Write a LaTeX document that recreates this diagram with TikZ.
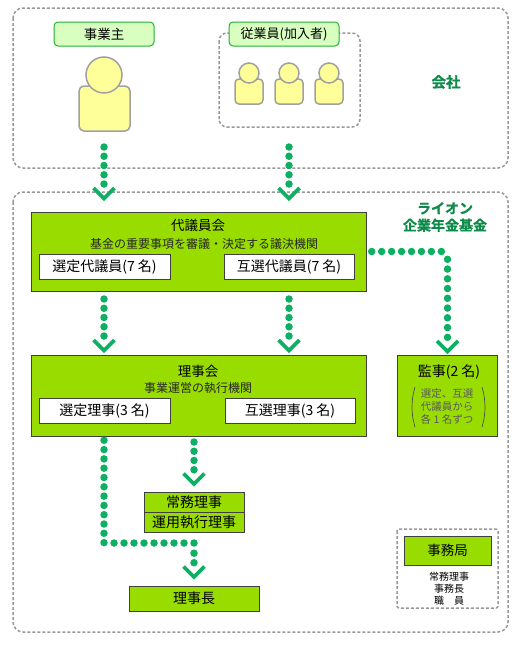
\documentclass[tikz,border=0pt]{standalone}
\usepackage{fontspec}
\setmainfont{Noto Sans CJK JP}
\newfontfamily\boldcjk[FakeBold=1]{Noto Sans CJK JP Bold}
\definecolor{dotgreen}{HTML}{0DAF63}
\definecolor{boxgreen}{HTML}{99DD00}
\definecolor{taggreen}{HTML}{D8FFC0}
\definecolor{tagedge}{HTML}{22B033}
\definecolor{personfill}{HTML}{FFFF99}
\definecolor{personedge}{HTML}{A0A0A0}
\definecolor{dashgrey}{HTML}{999999}
\definecolor{boxedge}{HTML}{404040}
\definecolor{titlegreen}{HTML}{0E8A4A}
\tikzset{
  x=1pt,y=-1pt,
  region/.style={draw=dashgrey,line width=1.5pt,dash pattern=on 3pt off 2pt,rounded corners=10pt},
  tagbox/.style={draw=tagedge,fill=taggreen,line width=1pt,rounded corners=4pt,inner sep=0pt,font=\fontsize{13.5}{15}\selectfont},
  greenbox/.style={draw=boxedge,fill=boxgreen,line width=1pt,inner sep=0pt,font=\fontsize{14}{15}\selectfont},
  whitebox/.style={draw=boxedge,fill=white,line width=1pt,inner sep=0pt,font=\fontsize{14}{15}\selectfont},
  person/.style={draw=personedge,fill=personfill,line width=1.5pt},
  dotline/.style={draw=dotgreen,line width=7.5pt,line cap=round,dash pattern=on 0pt off #1},
  dotline/.default=9.25pt,
  chevron/.style={draw=dotgreen,line width=3.6pt,line cap=butt,line join=miter},
  lbl/.style={inner sep=0pt,align=center},
  paren/.style={draw=black!70,line width=0.7pt},
  chev/.pic={\draw[chevron] (-10.5,-10.5) -- (0,0) -- (10.5,-10.5);}
}
\begin{document}
\begin{tikzpicture}
\useasboundingbox (0,0) rectangle (520,648);
% regions
\draw[region] (13,8) rectangle (508,168);
\draw[region] (13,192) rectangle (508,632);
\draw[region,rounded corners=8pt] (219,33) rectangle (360,127);
\draw[region,rounded corners=2pt] (397,529) rectangle (498,608);
% tags
\node[tagbox,minimum width=100pt,minimum height=24pt] (owner) at (104,34) {事業主};
\node[tagbox,minimum width=110pt,minimum height=24pt,font=\fontsize{13}{15}\selectfont] (staff) at (284,34) {従業員(加入者)};
% persons
\draw[person,rounded corners=5pt] (79,86) rectangle (130,131);
\draw[person] (104,75) circle (18);
\foreach \px in {249,289,329}{
  \draw[person,rounded corners=4pt] (\px-14,79) rectangle (\px+14,104);
  \draw[person] (\px,73) circle (10);
}
% titles
\node[lbl,text=titlegreen,font=\boldcjk\fontsize{14.5}{16}\selectfont] (company) at (446,82) {会社};
\node[lbl,text=titlegreen,font=\boldcjk\fontsize{14}{17}\selectfont] (fund) at (445,217) {ライオン\\企業年金基金};
% boxes
\node[greenbox,minimum width=335pt,minimum height=79pt] (daigi) at (198.5,251.5) {};
\node[lbl,font=\fontsize{13.5}{15}\selectfont] (daigiT) at (198,225) {代議員会};
\node[lbl,font=\fontsize{12}{13}\selectfont,text=black!85] (daigiS) at (204,244) {基金の重要事項を審議・決定する議決機関};
\node[whitebox,minimum width=131pt,minimum height=25pt] (daigiA) at (104.5,266.5) {選定代議員(7 名)};
\node[whitebox,minimum width=130pt,minimum height=25pt] (daigiB) at (289,266.5) {互選代議員(7 名)};
\node[greenbox,minimum width=335pt,minimum height=81pt] (riji) at (198.5,395.5) {};
\node[lbl,font=\fontsize{13.5}{15}\selectfont] (rijiT) at (198,371) {理事会};
\node[lbl,font=\fontsize{12}{13}\selectfont,text=black!85] (rijiS) at (198,388) {事業運営の執行機関};
\node[whitebox,minimum width=131pt,minimum height=25pt] (rijiA) at (104.5,410.5) {選定理事(3 名)};
\node[whitebox,minimum width=130pt,minimum height=25pt] (rijiB) at (290,410.5) {互選理事(3 名)};
\node[greenbox,minimum width=100pt,minimum height=81pt] (kanji) at (447,395.5) {};
\node[lbl,font=\fontsize{14}{15}\selectfont] (kanjiT) at (449,372) {監事(2 名)};
\node[lbl,font=\fontsize{10.5}{13}\selectfont,text=black!65] (kanjiS) at (447,406.5) {選定、互選\\代議員から\\各 1 名ずつ};
\draw[paren] (415,387) .. controls (411,400) and (411,414) .. (415,427);
\draw[paren] (482,387) .. controls (486,400) and (486,414) .. (482,427);
\node[greenbox,minimum width=100pt,minimum height=20pt] (jomu) at (194,502) {常務理事};
\node[greenbox,minimum width=100pt,minimum height=20pt] (unyo) at (194,522) {運用執行理事};
\node[greenbox,minimum width=130pt,minimum height=25pt] (richo) at (194,598.5) {理事長};
\node[greenbox,minimum width=87pt,minimum height=29pt,font=\fontsize{13.5}{15}\selectfont] (jimu) at (447.5,550.5) {事務局};
\node[lbl,font=\fontsize{10}{11.8}\selectfont] (jimuS) at (449,588.5) {常務理事\\事務長\\職\quad 員};
% connector ends
\coordinate (a1s) at (104,147); \coordinate (a1e) at (104,184.3); \coordinate (a1t) at (104,198.5);
\coordinate (a2s) at (289,147); \coordinate (a2e) at (289,184.3); \coordinate (a2t) at (289,198.5);
\coordinate (b1s) at (104,299); \coordinate (b1e) at (104,336.3); \coordinate (b1t) at (104,350.5);
\coordinate (b2s) at (289,299); \coordinate (b2e) at (289,336.3); \coordinate (b2t) at (289,350.5);
\coordinate (c1s) at (371.7,251.5); \coordinate (c1m) at (441.7,251.5); \coordinate (c1n) at (447.5,259.3); \coordinate (c1e) at (447.5,337.5); \coordinate (c1t) at (447.5,351.5);
\coordinate (d1s) at (194,442); \coordinate (d1e) at (194,470); \coordinate (d1t) at (194,484);
\coordinate (e1s) at (104,440.3); \coordinate (e1m) at (104,543); \coordinate (e1b) at (114,543); \coordinate (e1n) at (194.2,543); \coordinate (e1c) at (194,553.2); \coordinate (e1e) at (194,563); \coordinate (e1t) at (194,577);
% connectors
\foreach \s/\e/\t in {a1s/a1e/a1t,a2s/a2e/a2t,b1s/b1e/b1t,b2s/b2e/b2t,d1s/d1e/d1t}{
  \draw[dotline] (\s) -- (\e);
  \pic at (\t) {chev};
}
\draw[dotline=9.95pt] (c1s) -- (c1m);
\draw[dotline=9.75pt] (c1n) -- (c1e);
\pic at (c1t) {chev};
\draw[dotline=9.3pt] (e1s) -- (e1m);
\draw[dotline=10pt] (e1b) -- (e1n);
\draw[dotline=9.5pt] (e1c) -- (e1e);
\pic at (e1t) {chev};
\end{tikzpicture}
\end{document}
